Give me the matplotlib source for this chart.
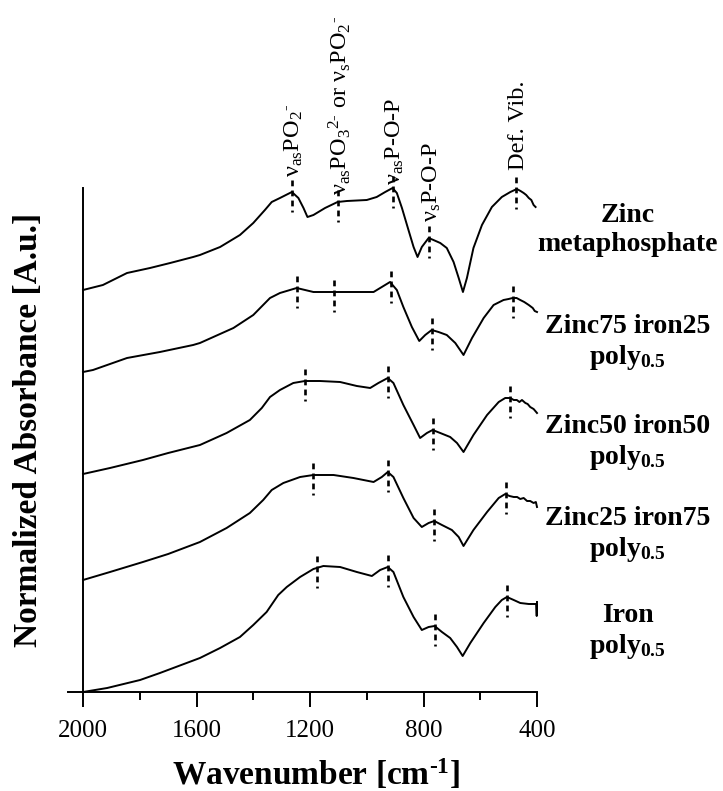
import numpy as np
import matplotlib
matplotlib.use("Agg")
import matplotlib.pyplot as plt

plt.rcParams['font.family'] = ['Liberation Serif', 'DejaVu Serif']
plt.rcParams['mathtext.fontset'] = 'custom'
plt.rcParams['mathtext.rm'] = 'Liberation Serif'
plt.rcParams['mathtext.bf'] = 'Liberation Serif:bold'
plt.rcParams['mathtext.default'] = 'regular'

# IR spectra (wavenumber in cm-1, absorbance relative to the left end of each trace)
zn_wn = [2000, 1930, 1845, 1764, 1693, 1612, 1588, 1517, 1447, 1400, 1359, 1335, 1306,
         1264, 1241, 1223, 1209, 1188, 1147, 1103, 1070, 1000, 965, 935, 909, 894, 876,
         853, 835, 821, 806, 782, 765, 741, 718, 694, 676, 661, 647, 624, 594, 559, 524,
         494, 471, 458, 447, 438, 429, 420, 412, 405]
zn_ab = [0.00, 0.05, 0.17, 0.22, 0.27, 0.33, 0.35, 0.43, 0.55, 0.67, 0.80, 0.88, 0.92,
         0.98, 0.92, 0.82, 0.73, 0.75, 0.82, 0.88, 0.89, 0.90, 0.93, 0.98, 1.02, 0.97, 0.82,
         0.60, 0.43, 0.33, 0.43, 0.52, 0.50, 0.47, 0.42, 0.28, 0.12, -0.02, 0.12, 0.42,
         0.65, 0.83, 0.93, 0.98, 1.01, 0.99, 0.97, 0.95, 0.92, 0.90, 0.85, 0.83]

zn75_wn = [2000, 1965, 1845, 1729, 1612, 1588, 1470, 1400, 1341, 1306, 1247, 1188, 1117,
           1047, 976, 947, 918, 894, 871, 841, 815, 794, 771, 747, 718, 688, 659, 629,
           588, 553, 518, 500, 486, 472, 459, 445, 429, 415, 408, 400]
zn75_ab = [0.00, 0.02, 0.14, 0.20, 0.27, 0.29, 0.44, 0.57, 0.74, 0.79, 0.84, 0.80, 0.80,
           0.80, 0.80, 0.85, 0.90, 0.82, 0.65, 0.45, 0.31, 0.37, 0.42, 0.40, 0.37, 0.29,
           0.17, 0.34, 0.54, 0.67, 0.72, 0.73, 0.74, 0.74, 0.72, 0.70, 0.67, 0.64, 0.61,
           0.60]

zn50_wn = [2000, 1905, 1789, 1700, 1588, 1494, 1412, 1370, 1341, 1306, 1259, 1218, 1165,
           1094, 1035, 988, 959, 926, 906, 871, 835, 812, 788, 768, 741, 706, 682, 659,
           624, 576, 535, 512, 494, 482, 471, 462, 453, 441, 433, 424, 412, 400]
zn50_ab = [0.00, 0.06, 0.14, 0.21, 0.29, 0.41, 0.54, 0.66, 0.77, 0.84, 0.91, 0.93, 0.93,
           0.92, 0.88, 0.86, 0.91, 0.96, 0.91, 0.69, 0.49, 0.36, 0.41, 0.44, 0.41, 0.37,
           0.31, 0.22, 0.39, 0.59, 0.72, 0.76, 0.76, 0.74, 0.74, 0.72, 0.74, 0.71, 0.70,
           0.67, 0.65, 0.61]

zn25_wn = [2000, 1905, 1789, 1700, 1588, 1494, 1412, 1365, 1335, 1294, 1235, 1188, 1117,
           1047, 976, 947, 926, 906, 871, 835, 806, 782, 762, 735, 700, 676, 659, 624,
           576, 535, 512, 497, 482, 470, 459, 447, 435, 424, 412, 404, 400]
zn25_ab = [0.00, 0.08, 0.18, 0.26, 0.38, 0.52, 0.67, 0.80, 0.90, 0.97, 1.03, 1.05, 1.05,
           1.02, 0.98, 1.03, 1.08, 1.03, 0.82, 0.62, 0.53, 0.57, 0.59, 0.55, 0.50, 0.43,
           0.34, 0.50, 0.68, 0.82, 0.86, 0.84, 0.83, 0.83, 0.81, 0.82, 0.79, 0.79, 0.77,
           0.78, 0.73]

fe_wn = [2000, 1915, 1799, 1729, 1588, 1517, 1447, 1400, 1353, 1312, 1282, 1235, 1188,
         1153, 1094, 1035, 982, 953, 926, 906, 871, 835, 806, 782, 761, 735, 706, 682,
         662, 635, 588, 547, 524, 506, 482, 459, 429, 406, 403, 401, 400]
fe_ab = [0.00, 0.04, 0.12, 0.19, 0.34, 0.44, 0.55, 0.67, 0.80, 0.97, 1.05, 1.15, 1.23,
         1.26, 1.25, 1.20, 1.16, 1.22, 1.25, 1.20, 0.95, 0.75, 0.62, 0.65, 0.66, 0.60,
         0.54, 0.45, 0.36, 0.49, 0.69, 0.85, 0.92, 0.95, 0.92, 0.89, 0.88, 0.88, 0.88,
         0.76, 0.90]

spectra = [(zn_wn, zn_ab), (zn75_wn, zn75_ab), (zn50_wn, zn50_ab),
           (zn25_wn, zn25_ab), (fe_wn, fe_ab)]
offsets = [4.02, 3.20, 2.18, 1.12, 0.0]

names = ["Zinc\nmetaphosphate",
         "Zinc75 iron25\npoly$_{\\mathbf{0.5}}$",
         "Zinc50 iron50\npoly$_{\\mathbf{0.5}}$",
         "Zinc25 iron75\npoly$_{\\mathbf{0.5}}$",
         "Iron\npoly$_{\\mathbf{0.5}}$"]

# band positions marked on each spectrum
peaks = [[1264, 1103, 909, 780, 473],
         [1247, 1114, 915, 771, 486],
         [1218, 926, 768, 496],
         [1188, 926, 762, 511],
         [1174, 926, 761, 506]]

band_names = ["ν$_{as}$PO$_2$$^{\u2010}$",
              "ν$_{as}$PO$_3$$^{2\u2010}$ or ν$_s$PO$_2$$^{\u2010}$",
              "ν$_{as}$P-O-P",
              "ν$_s$P-O-P",
              "Def. Vib."]

# layout
band_text_y = [5.15, 4.97, 5.07, 4.70, 5.22]
name_y = [4.62, 3.49, 2.49, 1.57, 0.60]

fig = plt.figure(figsize=(7.23, 7.91), dpi=100)
ax = fig.add_axes([68 / 723, 1 - 692 / 791, 469 / 723, 504 / 791])

for (wn, ab), off, pk in zip(spectra, offsets, peaks):
    y = np.array(ab) + off
    ax.plot(wn, y, color='black', lw=1.4, clip_on=False, solid_joinstyle='round')
    for p in pk:
        yp = np.interp(p, wn[::-1], y[::-1])
        ax.plot([p, p], [yp + 0.12, yp - 0.20], color='black', lw=1.9,
                linestyle=(0, (2.2, 1.6)), clip_on=False)

for p, t, ty in zip(peaks[0], band_names, band_text_y):
    ax.text(p - 8, ty, t, rotation=90, ha='center', va='bottom', fontsize=17.5)

for n, ny in zip(names, name_y):
    ax.text(80, ny, n, ha='center', va='center', fontsize=20, fontweight='bold',
            multialignment='center')

ax.set_xlim(2053, 400)
ax.set_ylim(0, 5.04)
ax.set_xticks([2000, 1600, 1200, 800, 400])
ax.set_xticks([1800, 1400, 1000, 600], minor=True)
ax.tick_params(axis='x', which='major', direction='out', length=11, width=1.4,
               labelsize=18, pad=9)
ax.tick_params(axis='x', which='minor', direction='out', length=6, width=1.4)
ax.set_yticks([])
ax.spines['left'].set_position(('data', 2000))
ax.spines['left'].set_linewidth(1.4)
ax.spines['bottom'].set_linewidth(1.4)
ax.spines['top'].set_visible(False)
ax.spines['right'].set_visible(False)

fig.text(316 / 723, 1 - 775 / 791, "Wavenumber [cm$^{\\mathbf{\u20101}}$]", ha='center',
         va='center', fontsize=24, fontweight='bold')
fig.text(29 / 723, 1 - 430 / 791, "Normalized Absorbance [A.u.]", rotation=90,
         ha='center', va='center', fontsize=24, fontweight='bold')

fig.savefig("out.png", dpi=100)
